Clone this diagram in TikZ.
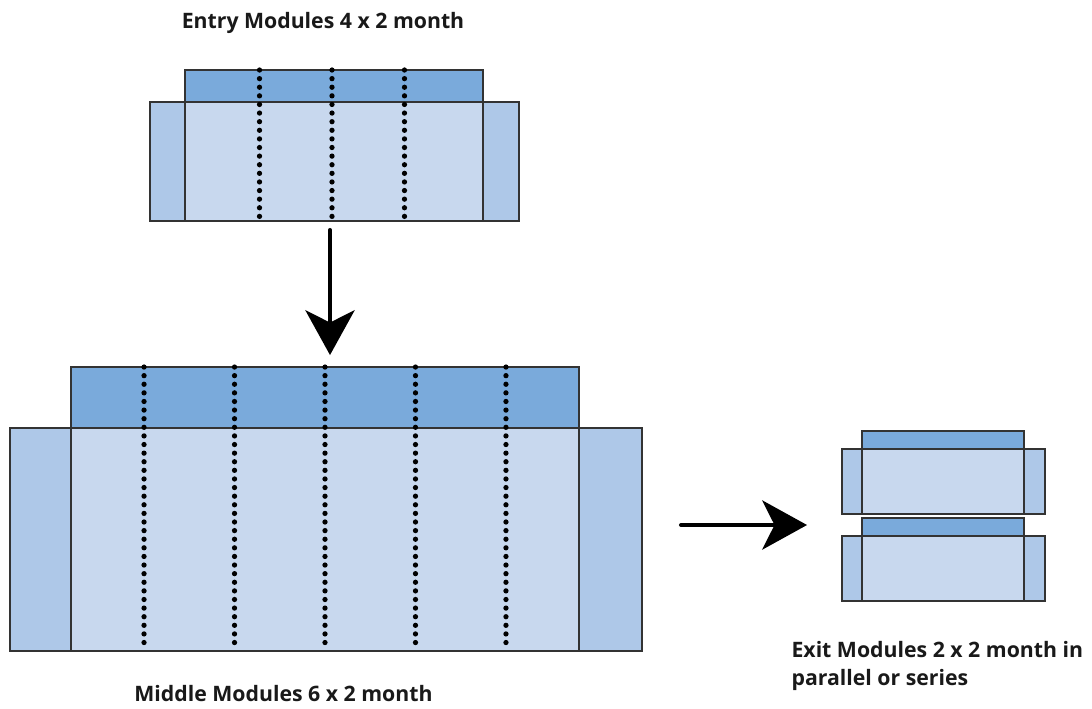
\documentclass[tikz,border=0pt]{standalone}
\usepackage{fontspec}
\setmainfont{Open Sans}
\usepackage{xcolor}
\usetikzlibrary{arrows.meta, positioning, calc}
\definecolor{barblue}{HTML}{7AAADB}
\definecolor{bodyblue}{HTML}{C8D8EE}
\definecolor{sideblue}{HTML}{AEC8E8}
\definecolor{edgegray}{HTML}{333333}

\begin{document}
\begin{tikzpicture}[x=0.02cm, y=-0.02cm, line width=0.8pt,
  box/.style={draw=edgegray, rectangle, inner sep=0pt, outer sep=0pt},
  body/.style={box, fill=bodyblue},
  bar/.style={box, fill=barblue},
  side/.style={box, fill=sideblue},
  dots/.style={line width=3pt, line cap=round, dash pattern=on 0pt off 4.9pt},
  arr/.style={line width=2.3pt, line cap=round,
    -{Stealth[length=25.5pt, width=28pt, inset=7pt]}},
  lbl/.style={font=\fontsize{12.1}{15.9}\selectfont\bfseries, text=black!90}]
  \useasboundingbox (0,0) rectangle (1092,708);

  \node[body, minimum width=5.96cm, minimum height=2.38cm] (entry) at (334,161.5) {};
  \node[side, minimum width=0.7cm, minimum height=2.38cm, left=0pt of entry] (eleft) {};
  \node[side, minimum width=0.72cm, minimum height=2.38cm, right=0pt of entry] (eright) {};
  \node[bar, minimum width=5.96cm, minimum height=0.64cm, above=0pt of entry] (ebar) {};
  \foreach \dx in {-1,0,1}
    \draw[dots] ([xshift=\dx*1.45cm-0.04cm]ebar.north) -- ([xshift=\dx*1.45cm-0.04cm]entry.south);

  \node[body, minimum width=10.16cm, minimum height=4.46cm] (middle) at (325,539.5) {};
  \node[side, minimum width=1.22cm, minimum height=4.46cm, left=0pt of middle] (mleft) {};
  \node[side, minimum width=1.26cm, minimum height=4.46cm, right=0pt of middle] (mright) {};
  \node[bar, minimum width=10.16cm, minimum height=1.22cm, above=0pt of middle] (mbar) {};
  \foreach \dx in {-2,...,2}
    \draw[dots] ([xshift=\dx*1.81cm]mbar.north) -- ([xshift=\dx*1.81cm]middle.south);

  \node[body, minimum width=3.24cm, minimum height=1.3cm] (exita) at (943,481.5) {};
  \node[side, minimum width=0.4cm, minimum height=1.3cm, left=0pt of exita] (aleft) {};
  \node[side, minimum width=0.42cm, minimum height=1.3cm, right=0pt of exita] (aright) {};
  \node[bar, minimum width=3.24cm, minimum height=0.36cm, above=0pt of exita] (abar) {};

  \node[body, minimum width=3.24cm, minimum height=1.3cm] (exitb) at (943,568.5) {};
  \node[side, minimum width=0.4cm, minimum height=1.3cm, left=0pt of exitb] (bleft) {};
  \node[side, minimum width=0.42cm, minimum height=1.3cm, right=0pt of exitb] (bright) {};
  \node[bar, minimum width=3.24cm, minimum height=0.36cm, above=0pt of exitb] (bbar) {};

  \coordinate (down) at ($(entry.south)+(-4,0)$);
  \draw[arr, shorten <=0.18cm, shorten >=0.24cm] (down) -- (down |- mbar.north);
  \coordinate (tail) at (681,525);
  \draw[arr, shorten >=0.7cm] (tail) -- (tail -| aleft.west);

  \node[lbl] (entrylbl) at (323,23) {Entry Modules 4 x 2 month};
  \node[lbl] (midlbl) at (283.5,694) {Middle Modules 6 x 2 month};
  \node[lbl, align=left, anchor=west] (exitlbl) at (785,666) {Exit Modules 2 x 2 month in\\parallel or series};
\end{tikzpicture}
\end{document}
